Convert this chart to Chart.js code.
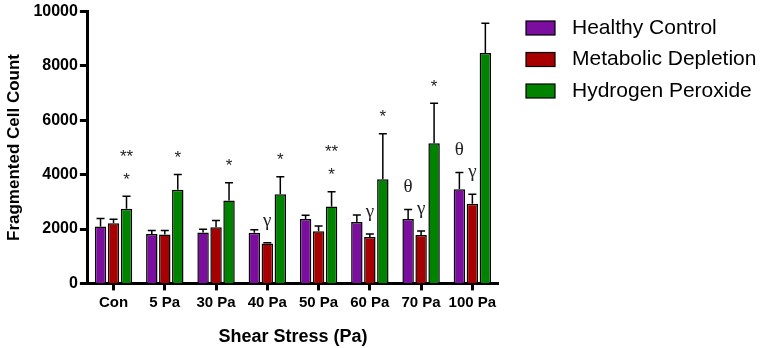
<!DOCTYPE html>
<html>
<head>
<meta charset="utf-8">
<script src="https://cdn.jsdelivr.net/npm/chart.js@4"></script>
<style>
  body { margin: 0; background: #fff; }
  #wrap { width: 765px; height: 348px; position: relative; }
</style>
</head>
<body>
<div id="wrap"><canvas id="chart"></canvas></div>
<script>
// data
const categories = ['Con', '5 Pa', '30 Pa', '40 Pa', '50 Pa', '60 Pa', '70 Pa', '100 Pa'];
const healthyControl = [2090, 1820, 1870, 1860, 2370, 2260, 2370, 3460];
const healthyErr = [300, 125, 120, 110, 135, 255, 350, 620];
const metabolicDepletion = [2210, 1800, 2070, 1470, 1920, 1710, 1780, 2930];
const metabolicErr = [150, 145, 245, 30, 195, 110, 145, 350];
const hydrogenPeroxide = [2750, 3450, 3050, 3280, 2830, 3830, 5160, 8480];
const peroxideErr = [460, 560, 655, 645, 545, 1675, 1470, 1095];
const yTicks = [0, 2000, 4000, 6000, 8000, 10000];

// significance marks above each bar (bottom to top)
const healthyMarks = [[], [], [], [], [], [], ['θ'], ['θ']];
const metabolicMarks = [[], [], [], ['γ'], [], ['γ'], ['γ'], ['γ']];
const peroxideMarks = [['*', '**'], ['*'], ['*'], ['*'], ['*', '**'], ['*'], ['*'], []];

const FONT = "'Liberation Sans', Arial, sans-serif";

// error bars + marks
const errorBarPlugin = {
  id: 'errorBars',
  afterDatasetsDraw(chart) {
    const ctx = chart.ctx;
    const y = chart.scales.y;
    chart.data.datasets.forEach((ds, i) => {
      const meta = chart.getDatasetMeta(i);
      meta.data.forEach((bar, j) => {
        const top = y.getPixelForValue(ds.data[j] + ds.errors[j]);
        ctx.save();
        ctx.strokeStyle = '#000';
        ctx.lineWidth = 1.5;
        ctx.beginPath();
        ctx.moveTo(bar.x, bar.y);
        ctx.lineTo(bar.x, top);
        ctx.moveTo(bar.x - 4, top);
        ctx.lineTo(bar.x + 4, top);
        ctx.stroke();

        ctx.fillStyle = '#222';
        ctx.textAlign = 'center';
        ctx.textBaseline = 'middle';
        ds.marks[j].forEach((m, k) => {
          if (m === '*' || m === '**') {
            ctx.font = '17px ' + FONT;
            ctx.fillText(m, bar.x, top - 16 - k * 23);
          } else {
            ctx.font = '19px "Liberation Serif", "Times New Roman", serif';
            ctx.fillText(m, bar.x, top - 22 - k * 23);
          }
        });
        ctx.restore();
      });
    });
  }
};

// legend on the right
const legendPlugin = {
  id: 'sideLegend',
  afterDraw(chart) {
    const ctx = chart.ctx;
    ctx.save();
    chart.data.datasets.forEach((ds, i) => {
      const top = 21 + i * 31.5;
      ctx.fillStyle = ds.backgroundColor;
      ctx.fillRect(526, top, 29, 14);
      ctx.strokeStyle = '#000';
      ctx.lineWidth = 1.2;
      ctx.strokeRect(526, top, 29, 14);
      ctx.fillStyle = '#000';
      ctx.font = '21px ' + FONT;
      ctx.textAlign = 'left';
      ctx.textBaseline = 'middle';
      ctx.fillText(ds.label, 572, top + 7);
    });
    ctx.restore();
  }
};

const ctx = document.getElementById('chart').getContext('2d');
new Chart(ctx, {
  type: 'bar',
  data: {
    labels: categories,
    datasets: [
      { label: 'Healthy Control', data: healthyControl, errors: healthyErr, marks: healthyMarks,
        backgroundColor: '#7B0E9E', borderColor: '#000', borderWidth: 1.5 },
      { label: 'Metabolic Depletion', data: metabolicDepletion, errors: metabolicErr, marks: metabolicMarks,
        backgroundColor: '#A80000', borderColor: '#000', borderWidth: 1.5 },
      { label: 'Hydrogen Peroxide', data: hydrogenPeroxide, errors: peroxideErr, marks: peroxideMarks,
        backgroundColor: '#008400', borderColor: '#000', borderWidth: 1.5 }
    ]
  },
  options: {
    responsive: true,
    maintainAspectRatio: false,
    animation: false,
    events: [],
    layout: { padding: { top: 8, right: 267, left: 4, bottom: 0 } },
    datasets: { bar: { categoryPercentage: 0.76, barPercentage: 0.88 } },
    plugins: { legend: { display: false }, tooltip: { enabled: false } },
    scales: {
      x: {
        grid: { offset: false, drawOnChartArea: false, drawTicks: true, tickLength: 7, tickWidth: 3, tickColor: '#000' },
        border: { color: '#000', width: 3 },
        ticks: { color: '#000', font: { family: FONT, size: 15, weight: 'bold' }, padding: 3,
                 maxRotation: 0, minRotation: 0, autoSkip: false },
        title: { display: true, text: 'Shear Stress (Pa)', color: '#000',
                 font: { family: FONT, size: 18, weight: 'bold' }, padding: { top: 12, bottom: 0 } }
      },
      y: {
        min: 0,
        max: 10000,
        afterBuildTicks(scale) { scale.ticks = yTicks.map(v => ({ value: v })); },
        grid: { drawOnChartArea: false, drawTicks: true, tickLength: 8, tickWidth: 3, tickColor: '#000' },
        border: { color: '#000', width: 3 },
        ticks: { color: '#000', font: { family: FONT, size: 16, weight: 'bold' }, padding: 2,
                 callback: v => String(v) },
        title: { display: true, text: 'Fragmented Cell Count', color: '#000',
                 font: { family: FONT, size: 17, weight: 'bold' }, padding: { top: 0, bottom: 7 } }
      }
    }
  },
  plugins: [errorBarPlugin, legendPlugin]
});
</script>
</body>
</html>
